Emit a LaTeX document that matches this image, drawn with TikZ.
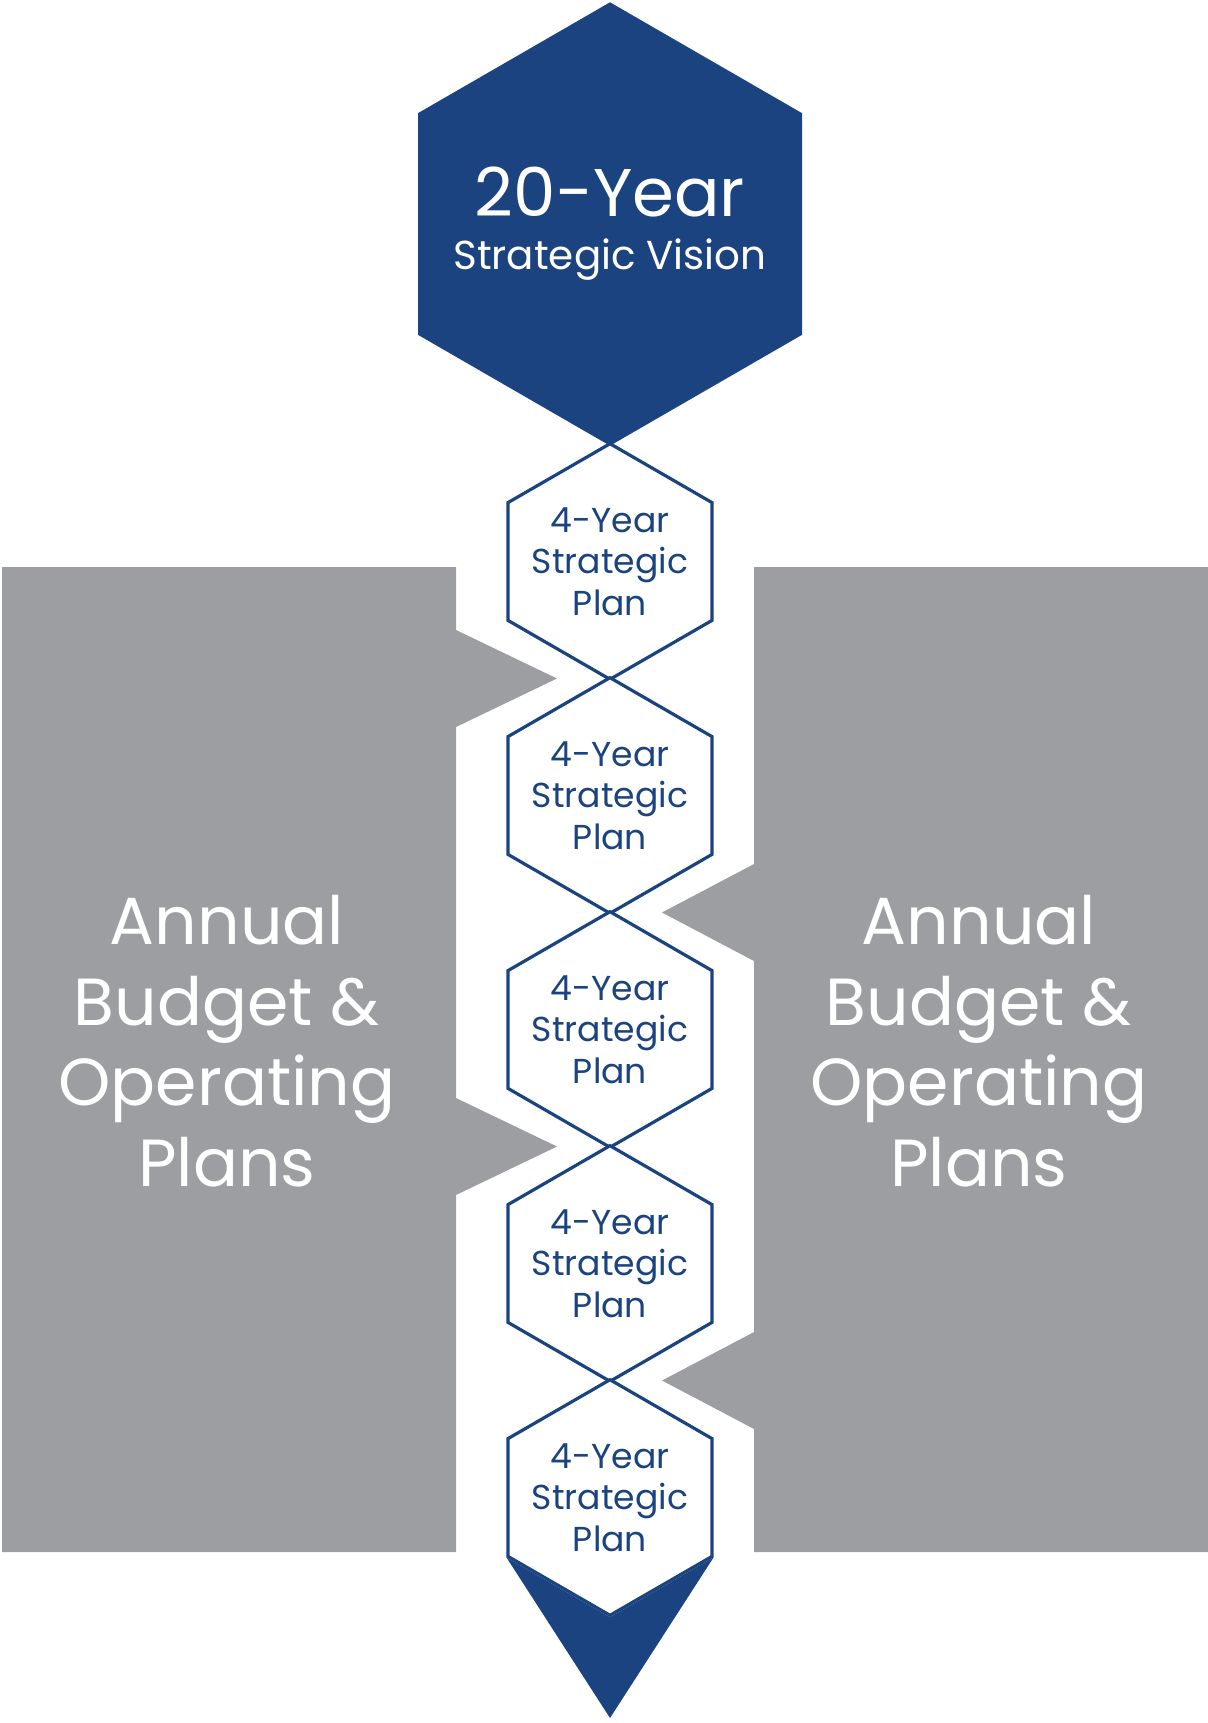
\documentclass[tikz,border=0pt]{standalone}
\usepackage{fontspec}
\setmainfont{Poppins}
\usetikzlibrary{shapes.geometric}

\definecolor{planblue}{RGB}{27,67,128}
\definecolor{budgetgray}{RGB}{157,158,162}

\newcommand{\hexstep}{234}
\newcommand{\hexy}[1]{561.5+#1*\hexstep}
\newcommand{\bighex}{\node[regular polygon, regular polygon sides=6, regular polygon rotate=30, fill=planblue, inner sep=0pt, minimum size=221.7pt]}
\newcommand{\bigtext}{\node[text=white, inner sep=0pt, align=center, font=\fontsize{20.2}{26.5}\selectfont]}
\newcommand{\smallhex}{\node[regular polygon, regular polygon sides=6, regular polygon rotate=30, draw=planblue, line width=1.6pt, fill=white, inner sep=0pt, minimum size=117.8pt]}
\newcommand{\plantext}{\node[text=planblue, inner sep=0pt, align=center, font=\fontsize{17.3}{20.75}\selectfont]}
\newcommand{\budgettext}{\node[text=white, align=center, font=\fontsize{33.3}{40.25}\selectfont]}

\begin{document}
\begin{tikzpicture}[x=0.5pt, y=-0.5pt]
            \useasboundingbox (0,0) rectangle (1208,1723);

            % grey side blocks with their notches
            \fill[budgetgray]
                (2,567) -- (456,567) -- (456,630) -- (557,678.5) -- (456,727)
                -- (456,1098) -- (557,1146.5) -- (456,1195) -- (456,1552)
                -- (2,1552) -- cycle;
            \fill[budgetgray]
                (754,567) -- (1208,567) -- (1208,1552) -- (754,1552)
                -- (754,1429) -- (662,1380.5) -- (754,1332)
                -- (754,961) -- (662,912.5) -- (754,864) -- cycle;

            \budgettext (bl) at (227,1041) {Annual\\Budget \&\\Operating\\Plans};
            \budgettext (br) at (979,1041) {Annual\\Budget \&\\Operating\\Plans};

            \bighex (v20) at (610,224) {};
            \bigtext (v20txt) at (v20) {{\fontsize{33.7}{40}\selectfont 20-Year}\\Strategic Vision};

            \foreach \i in {1,...,5} {
                \smallhex (p\i) at (610,{\hexy{(\i-1)}}) {};
                \plantext (p\i txt) at (p\i) {4-Year\\Strategic\\Plan};
            }

            \coordinate (tip) at (610,1718);
            \fill[planblue]
                (p5.210) -- (p5.south) -- (p5.330) -- (tip) -- cycle;

        \end{tikzpicture}
\end{document}
